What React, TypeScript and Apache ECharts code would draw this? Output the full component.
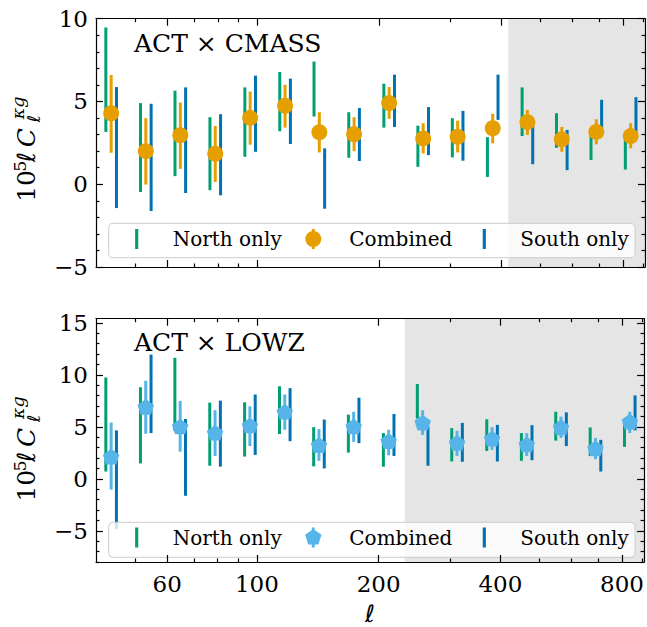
import React, { useEffect, useRef } from 'react';
import * as echarts from 'echarts';

// ---------- data ----------
const ellBins = [43.6, 53.1, 64.6, 78.8, 96.1, 117.2, 142.4, 173.5, 211.8, 257.0, 312.6, 381.6, 464.8, 565.2, 687.7, 836.0];

const xTickMajor = [60, 100, 200, 400, 800];
const xTickMinor = [50, 70, 80, 90, 300, 500, 600, 700, 900];

const cmassYMajor = [-5, 0, 5, 10];
const cmassYMinor = [-4, -3, -2, -1, 1, 2, 3, 4, 6, 7, 8, 9];
const lowzYMajor = [-5, 0, 5, 10, 15];
const lowzYMinor = [-8, -7, -6, -4, -3, -2, -1, 1, 2, 3, 4, 6, 7, 8, 9, 11, 12, 13, 14];

// ACT x CMASS
const cmassComb = [4.29, 2.0, 2.96, 1.84, 4.01, 4.74, 3.14, 3.02, 4.9, 2.77, 2.87, 3.38, 3.75, 2.71, 3.16, 2.91];
const cmassCombLo = [1.9, -0.02, 0.93, 0.14, 2.39, 3.42, 1.92, 2.0, 3.95, 1.86, 1.92, 2.47, 2.98, 1.96, 2.41, 2.17];
const cmassCombHi = [6.6, 3.99, 4.94, 3.52, 5.6, 6.01, 4.35, 4.05, 5.87, 3.69, 3.84, 4.25, 4.49, 3.46, 3.93, 3.69];
const cmassNorthLo = [3.16, -0.47, 0.49, -0.36, 1.66, 3.2, 4.09, 1.6, 3.42, 1.05, 1.62, 0.44, 2.91, 2.2, 1.46, 0.89];
const cmassNorthHi = [9.47, 4.9, 5.65, 4.05, 5.85, 6.78, 7.41, 4.35, 6.07, 3.54, 3.99, 2.84, 5.85, 4.29, 3.38, 3.08];
const cmassSouthLo = [-1.44, -1.62, -0.53, -0.67, 1.96, 2.43, -1.48, 1.4, 3.46, 1.76, 1.42, 3.89, 1.21, 0.85, 3.18, 3.08];
const cmassSouthHi = [5.87, 4.86, 5.85, 4.23, 6.56, 6.38, 2.17, 4.61, 6.62, 4.66, 4.43, 6.62, 3.72, 3.28, 5.1, 5.26];

// ACT x LOWZ
const lowzComb = [2.14, 6.92, 5.03, 4.43, 5.13, 6.45, 3.24, 5.03, 3.62, 5.41, 3.46, 3.87, 3.3, 4.94, 2.92, 5.51];
const lowzCombLo = [-1.04, 4.34, 2.61, 2.2, 3.15, 4.72, 1.73, 3.55, 2.26, 4.22, 2.2, 2.77, 2.2, 3.93, 1.89, 4.4];
const lowzCombHi = [5.41, 9.43, 7.49, 6.6, 6.98, 8.11, 4.78, 6.45, 4.72, 6.6, 4.62, 4.97, 4.4, 5.98, 3.93, 6.45];
const lowzNorthLo = [0.7, 1.48, 4.6, 1.26, 2.14, 4.31, 1.2, 2.52, 1.17, 5.8, 1.67, 2.68, 1.73, 3.68, 2.2, 3.08];
const lowzNorthHi = [9.75, 8.81, 11.64, 7.33, 7.36, 8.9, 4.97, 6.17, 4.4, 9.12, 4.88, 5.73, 4.4, 6.45, 4.94, 5.19];
const lowzSouthLo = [-4.85, 4.4, -1.63, 1.17, 2.3, 3.62, 1.0, 3.43, 2.2, 1.26, 1.64, 1.67, 1.79, 3.15, 0.7, 4.66];
const lowzSouthHi = [4.66, 11.95, 5.75, 7.52, 8.11, 8.72, 5.7, 7.8, 6.23, 5.03, 5.38, 5.19, 5.16, 6.39, 3.75, 8.02];

const ELL_MIN = 40;
const ELL_MAX = 907;
const cmassShadeFrom = 417;
const lowzShadeFrom = 232;

const legendNames = ['North only', 'Combined', 'South only'];

// ---------- style ----------
const GREEN = '#009E73';
const BLUE = '#0072B2';
const ORANGE = '#E69F00';
const SKY = '#56B4E9';
const FONT = 'DejaVu Serif';

const L = (v: number) => Math.log10(v);
const X_MIN = L(ELL_MIN);
const X_MAX = L(ELL_MAX);
const OFFSET = 0.0131; // horizontal dodge in log10(ell)

const PENTAGON = 'path://M0,-1L0.951,-0.309L0.588,0.809L-0.588,0.809L-0.951,-0.309Z';
const LINE_ICON = 'path://M0,0L3,0L3,19L0,19Z';
const CIRCLE_ICON = 'path://M-8,0A8,8 0 1,1 8,0A8,8 0 1,1 -8,0Z M-1.5,-10L1.5,-10L1.5,10L-1.5,10Z';
const PENTA_ICON = 'path://M0,-8.6L8.18,-2.66L5.06,6.96L-5.06,6.96L-8.18,-2.66Z M-1.5,-10L1.5,-10L1.5,10L-1.5,10Z';

type Panel = {
  title: string;
  titleTop: number;
  gridTop: number;
  gridHeight: number;
  yMin: number;
  yMax: number;
  yMajor: number[];
  yMinor: number[];
  shadeFrom: number;
  comb: number[];
  combLo: number[];
  combHi: number[];
  northLo: number[];
  northHi: number[];
  southLo: number[];
  southHi: number[];
  combColor: string;
  combSymbol: string;
  combSize: number | number[];
  combIcon: string;
  combIconW: number;
  legendTop: number;
  frameTop: number;
  frameH: number;
  ylabelY0: number;
};

const panels: Panel[] = [
  {
    title: 'ACT \u00d7 CMASS', titleTop: 31,
    gridTop: 18.7, gridHeight: 248.3,
    yMin: -5, yMax: 10, yMajor: cmassYMajor, yMinor: cmassYMinor,
    shadeFrom: cmassShadeFrom,
    comb: cmassComb, combLo: cmassCombLo, combHi: cmassCombHi,
    northLo: cmassNorthLo, northHi: cmassNorthHi, southLo: cmassSouthLo, southHi: cmassSouthHi,
    combColor: ORANGE, combSymbol: 'circle', combSize: 16, combIcon: CIRCLE_ICON, combIconW: 16,
    legendTop: 229, frameTop: 223.3, frameH: 34.4, ylabelY0: 200.3,
  },
  {
    title: 'ACT \u00d7 LOWZ', titleTop: 330,
    gridTop: 318.7, gridHeight: 248,
    yMin: -8, yMax: 15.4, yMajor: lowzYMajor, yMinor: lowzYMinor,
    shadeFrom: lowzShadeFrom,
    comb: lowzComb, combLo: lowzCombLo, combHi: lowzCombHi,
    northLo: lowzNorthLo, northHi: lowzNorthHi, southLo: lowzSouthLo, southHi: lowzSouthHi,
    combColor: SKY, combSymbol: PENTAGON, combSize: [16.5, 15.7], combIcon: PENTA_ICON, combIconW: 16.36,
    legendTop: 527.5, frameTop: 522.3, frameH: 35, ylabelY0: 500.1,
  },
];

const tickLine = { color: '#000', width: 1.2 };

function xAxis(grid: number, position: string, ticks: number[], len: number, line: boolean, labels: boolean, name?: string) {
  const vals = ticks.map(L);
  const ax: any = {
    type: 'value', gridIndex: grid, position, min: X_MIN, max: X_MAX, z: 10,
    axisLine: { show: line, onZero: false, lineStyle: tickLine },
    axisTick: { show: true, inside: true, length: len, customValues: vals, lineStyle: tickLine },
    axisLabel: {
      show: labels, customValues: vals, margin: 10,
      formatter: (v: number) => String(Math.round(Math.pow(10, v))),
      fontFamily: FONT, fontSize: 23, color: '#000',
    },
    splitLine: { show: false },
  };
  if (name) {
    ax.name = name;
    ax.nameLocation = 'middle';
    ax.nameGap = 40;
    ax.nameTextStyle = { fontFamily: '"DejaVu Serif", "DejaVu Sans"', fontStyle: 'italic', fontSize: 24, color: '#000' };
  }
  return ax;
}

function yAxis(grid: number, p: Panel, position: string, ticks: number[], len: number, line: boolean, labels: boolean) {
  return {
    type: 'value', gridIndex: grid, position, min: p.yMin, max: p.yMax, z: 10,
    axisLine: { show: line, onZero: false, lineStyle: tickLine },
    axisTick: { show: true, inside: true, length: len, customValues: ticks, lineStyle: tickLine },
    axisLabel: {
      show: labels, customValues: ticks, margin: 8, padding: [7, 0, 0, 0],
      formatter: (v: number) => String(v).replace('-', '\u2212'),
      fontFamily: FONT, fontSize: 23, color: '#000',
    },
    splitLine: { show: false },
  };
}

function barSeries(name: string, i: number, xs: number[], lo: number[], hi: number[], color: string, z: number) {
  return {
    type: 'custom', name, xAxisIndex: 4 * i, yAxisIndex: 4 * i, z,
    itemStyle: { color },
    encode: { x: 0, y: [1, 2] },
    data: xs.map((x, k) => [x, lo[k], hi[k]]),
    renderItem: (params: any, api: any) => {
      const x = api.value(0);
      const a = api.coord([x, api.value(1)]);
      const b = api.coord([x, api.value(2)]);
      return {
        type: 'line',
        shape: { x1: a[0], y1: a[1], x2: b[0], y2: b[1] },
        style: { stroke: color, lineWidth: 3, lineCap: 'butt' },
      };
    },
  };
}

function ylabel(y0: number) {
  const t = (text: string, x: number, y: number, size: number, italic: boolean) => ({
    type: 'text', x, y,
    style: {
      text, fill: '#000', fontFamily: italic ? '"DejaVu Serif", "DejaVu Sans"' : FONT, fontSize: size,
      fontStyle: italic ? 'italic' : 'normal',
      textAlign: 'left', textVerticalAlign: 'middle',
    },
  });
  return {
    type: 'group', x: 33.3, y: y0, rotation: Math.PI / 2, z: 10,
    children: [
      t('10', -1.5, -6.5, 25, false),
      t('5', 28.5, -13.5, 17.5, false),
      t('\u2113', 38, -6.5, 25, true),
      t('C', 53, -6.5, 25, true),
      t('\u03bag', 81, -15, 17.5, true),
      t('\u2113', 78, 0.5, 17.5, true),
    ],
  };
}

function buildOption() {
  const grid: any[] = [];
  const xAxes: any[] = [];
  const yAxes: any[] = [];
  const series: any[] = [];
  const legend: any[] = [];
  const title: any[] = [];
  const elements: any[] = [];

  panels.forEach((p, i) => {
    grid.push({ left: 96, right: 2, top: p.gridTop, height: p.gridHeight, containLabel: false });
    const last = i === panels.length - 1;
    xAxes.push(
      xAxis(i, 'bottom', xTickMajor, 7, true, last, last ? '\u2113' : undefined),
      xAxis(i, 'bottom', xTickMinor, 3.5, false, false),
      xAxis(i, 'top', xTickMajor, 7, true, false),
      xAxis(i, 'top', xTickMinor, 3.5, false, false),
    );
    yAxes.push(
      yAxis(i, p, 'left', p.yMajor, 7, true, true),
      yAxis(i, p, 'left', p.yMinor, 3.5, false, false),
      yAxis(i, p, 'right', p.yMajor, 7, true, false),
      yAxis(i, p, 'right', p.yMinor, 3.5, false, false),
    );

    const lx = ellBins.map(L);
    series.push({
      type: 'custom', xAxisIndex: 4 * i, yAxisIndex: 4 * i, z: 1, silent: true,
      encode: { x: [0, 1], y: [2, 3] },
      data: [[L(p.shadeFrom), X_MAX, p.yMin, p.yMax]],
      renderItem: (params: any, api: any) => {
        const a = api.coord([api.value(0), api.value(3)]);
        const b = api.coord([api.value(1), api.value(2)]);
        return {
          type: 'rect',
          shape: { x: a[0], y: a[1], width: b[0] - a[0], height: b[1] - a[1] },
          style: { fill: '#e5e5e5' },
        };
      },
    });
    series.push(barSeries(legendNames[0], i, lx.map((x) => x - OFFSET), p.northLo, p.northHi, GREEN, 2));
    series.push(barSeries(legendNames[2], i, lx.map((x) => x + OFFSET), p.southLo, p.southHi, BLUE, 2));
    series.push(barSeries(legendNames[1], i, lx, p.combLo, p.combHi, p.combColor, 2));
    series.push({
      type: 'scatter', name: legendNames[1], xAxisIndex: 4 * i, yAxisIndex: 4 * i, z: 2,
      symbol: p.combSymbol, symbolSize: p.combSize,
      itemStyle: { color: p.combColor, opacity: 1 },
      data: lx.map((x, k) => [x, p.comb[k]]),
    });

    const items = [
      { name: legendNames[0], icon: LINE_ICON, color: GREEN, w: 3.16, cx: 136.7 },
      { name: legendNames[1], icon: p.combIcon, color: p.combColor, w: p.combIconW, cx: 313.3 },
      { name: legendNames[2], icon: LINE_ICON, color: BLUE, w: 3.16, cx: 484.3 },
    ];
    items.forEach((it) => {
      legend.push({
        show: true, orient: 'horizontal', left: it.cx - it.w / 2, top: p.legendTop, padding: 0,
        itemWidth: it.w, itemHeight: 20, itemGap: 0, selectedMode: false, z: 6,
        symbolKeepAspect: true,
        textStyle: {
          fontFamily: FONT, fontSize: 20, color: '#000',
          padding: [0, 0, 0, 36 - it.w / 2 - 5],
        },
        data: [{ name: it.name, icon: it.icon, itemStyle: { color: it.color } }],
      });
    });

    title.push({
      text: p.title, left: 134, top: p.titleTop, padding: 0,
      textStyle: { fontFamily: FONT, fontSize: 25, fontWeight: 'normal', color: '#000', lineHeight: 25 },
    });

    elements.push({
      type: 'rect', z: 5, silent: true,
      shape: { x: 108.7, y: p.frameTop, width: 526.3, height: p.frameH, r: 4 },
      style: { fill: 'rgba(255,255,255,0.8)', stroke: '#cccccc', lineWidth: 1 },
    });
    elements.push(ylabel(p.ylabelY0));
  });

  return {
    animation: false,
    backgroundColor: '#ffffff',
    grid,
    xAxis: xAxes,
    yAxis: yAxes,
    series,
    legend,
    title,
    graphic: { elements },
    tooltip: { show: false },
  };
}

export default function App() {
  const ref = useRef<HTMLDivElement>(null);
  useEffect(() => {
    document.body.style.margin = '0';
    if (!ref.current) return;
    const chart = echarts.init(ref.current, null, { renderer: 'svg', width: 647, height: 627 });
    chart.setOption(buildOption() as any);
    return () => chart.dispose();
  }, []);
  return <div ref={ref} style={{ width: 647, height: 627, background: '#fff' }} />;
}
